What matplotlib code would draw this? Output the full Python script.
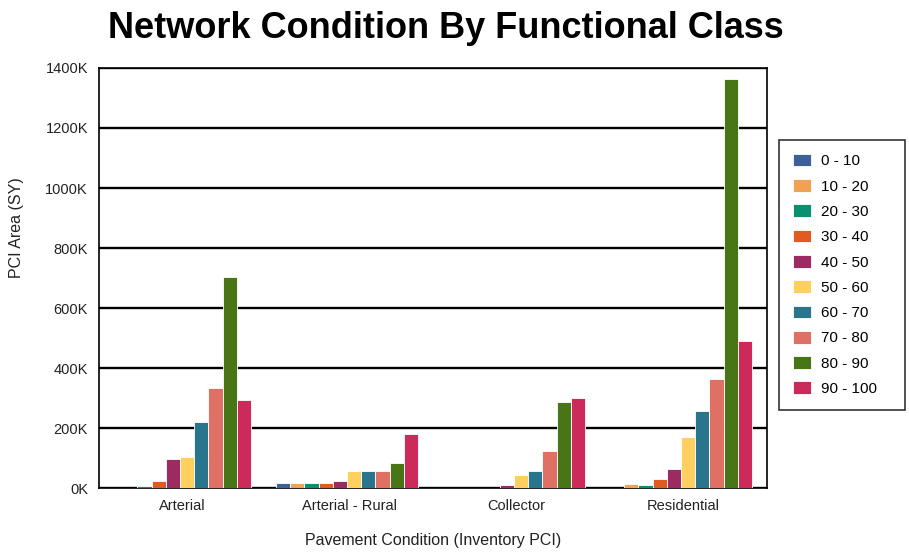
import numpy as np
import matplotlib.pyplot as plt
from matplotlib.ticker import FuncFormatter

plt.rcParams['font.family'] = ['Liberation Sans', 'DejaVu Sans']

# Functional classes and PCI ranges
classes = ['Arterial', 'Arterial - Rural', 'Collector', 'Residential']
pci_ranges = ['0 - 10', '10 - 20', '20 - 30', '30 - 40', '40 - 50',
              '50 - 60', '60 - 70', '70 - 80', '80 - 90', '90 - 100']

# Area (SY) per PCI range, one list per functional class order above
pci_0_10 = [0, 16000, 0, 0]
pci_10_20 = [0, 16000, 0, 15000]
pci_20_30 = [8000, 16000, 0, 9000]
pci_30_40 = [23000, 16000, 0, 30000]
pci_40_50 = [98000, 22000, 9000, 65000]
pci_50_60 = [104000, 56000, 44000, 169000]
pci_60_70 = [220000, 56000, 58000, 258000]
pci_70_80 = [334000, 56000, 122000, 363000]
pci_80_90 = [703000, 82000, 288000, 1363000]
pci_90_100 = [294000, 181000, 301000, 489000]

series = [pci_0_10, pci_10_20, pci_20_30, pci_30_40, pci_40_50,
          pci_50_60, pci_60_70, pci_70_80, pci_80_90, pci_90_100]

colors = ['#3b6198', '#f0a254', '#0b8f6e', '#e05a22', '#9c2b62',
          '#ffd05f', '#2a758e', '#de7163', '#487516', '#cb2a5a']

fig = plt.figure(figsize=(9.09, 5.52), dpi=100)
ax = fig.add_axes([99 / 909, 1 - 488 / 552, 668 / 909, 420 / 552])

x = np.arange(len(classes))
w = 0.085
for i, (vals, c, lab) in enumerate(zip(series, colors, pci_ranges)):
    ax.bar(x + (i - 4.5) * w - 0.015, vals, w, color=c, label=lab,
           edgecolor='white', linewidth=0.6, zorder=3)

ax.set_xlim(-0.5, 3.5)
ax.set_ylim(0, 1400000)
ax.set_yticks(np.arange(0, 1400001, 200000))
ax.yaxis.set_major_formatter(FuncFormatter(lambda v, p: f'{int(v / 1000)}K'))
ax.set_xticks(x)
ax.set_xticklabels(classes)
ax.grid(axis='y', color='black', linewidth=1.7, zorder=1)
ax.tick_params(axis='both', length=0, labelsize=10.5, colors='#222222', pad=8)
for s in ax.spines.values():
    s.set_linewidth(1.2)

fig.text(446 / 909, 1 - 29 / 552, 'Network Condition By Functional Class',
         ha='center', va='center', fontsize=26, fontweight='bold')
fig.text(17 / 909, 1 - 228 / 552, 'PCI Area (SY)', rotation=90,
         ha='center', va='center', fontsize=11.5, color='#222222')
fig.text(433 / 909, 1 - 541 / 552, 'Pavement Condition (Inventory PCI)',
         ha='center', va='center', fontsize=11.5, color='#222222')

leg = ax.legend(loc='upper left',
                bbox_to_anchor=(779 / 909, 1 - 413 / 552, 126 / 909, 273 / 552),
                bbox_transform=fig.transFigure, mode='expand', borderaxespad=0,
                frameon=True, fancybox=False, edgecolor='black', fontsize=11,
                handlelength=1.18, handleheight=0.9, labelspacing=0.7,
                borderpad=0.9, handletextpad=0.65)
leg.get_frame().set_linewidth(1.2)

fig.savefig('out.png', dpi=100)
